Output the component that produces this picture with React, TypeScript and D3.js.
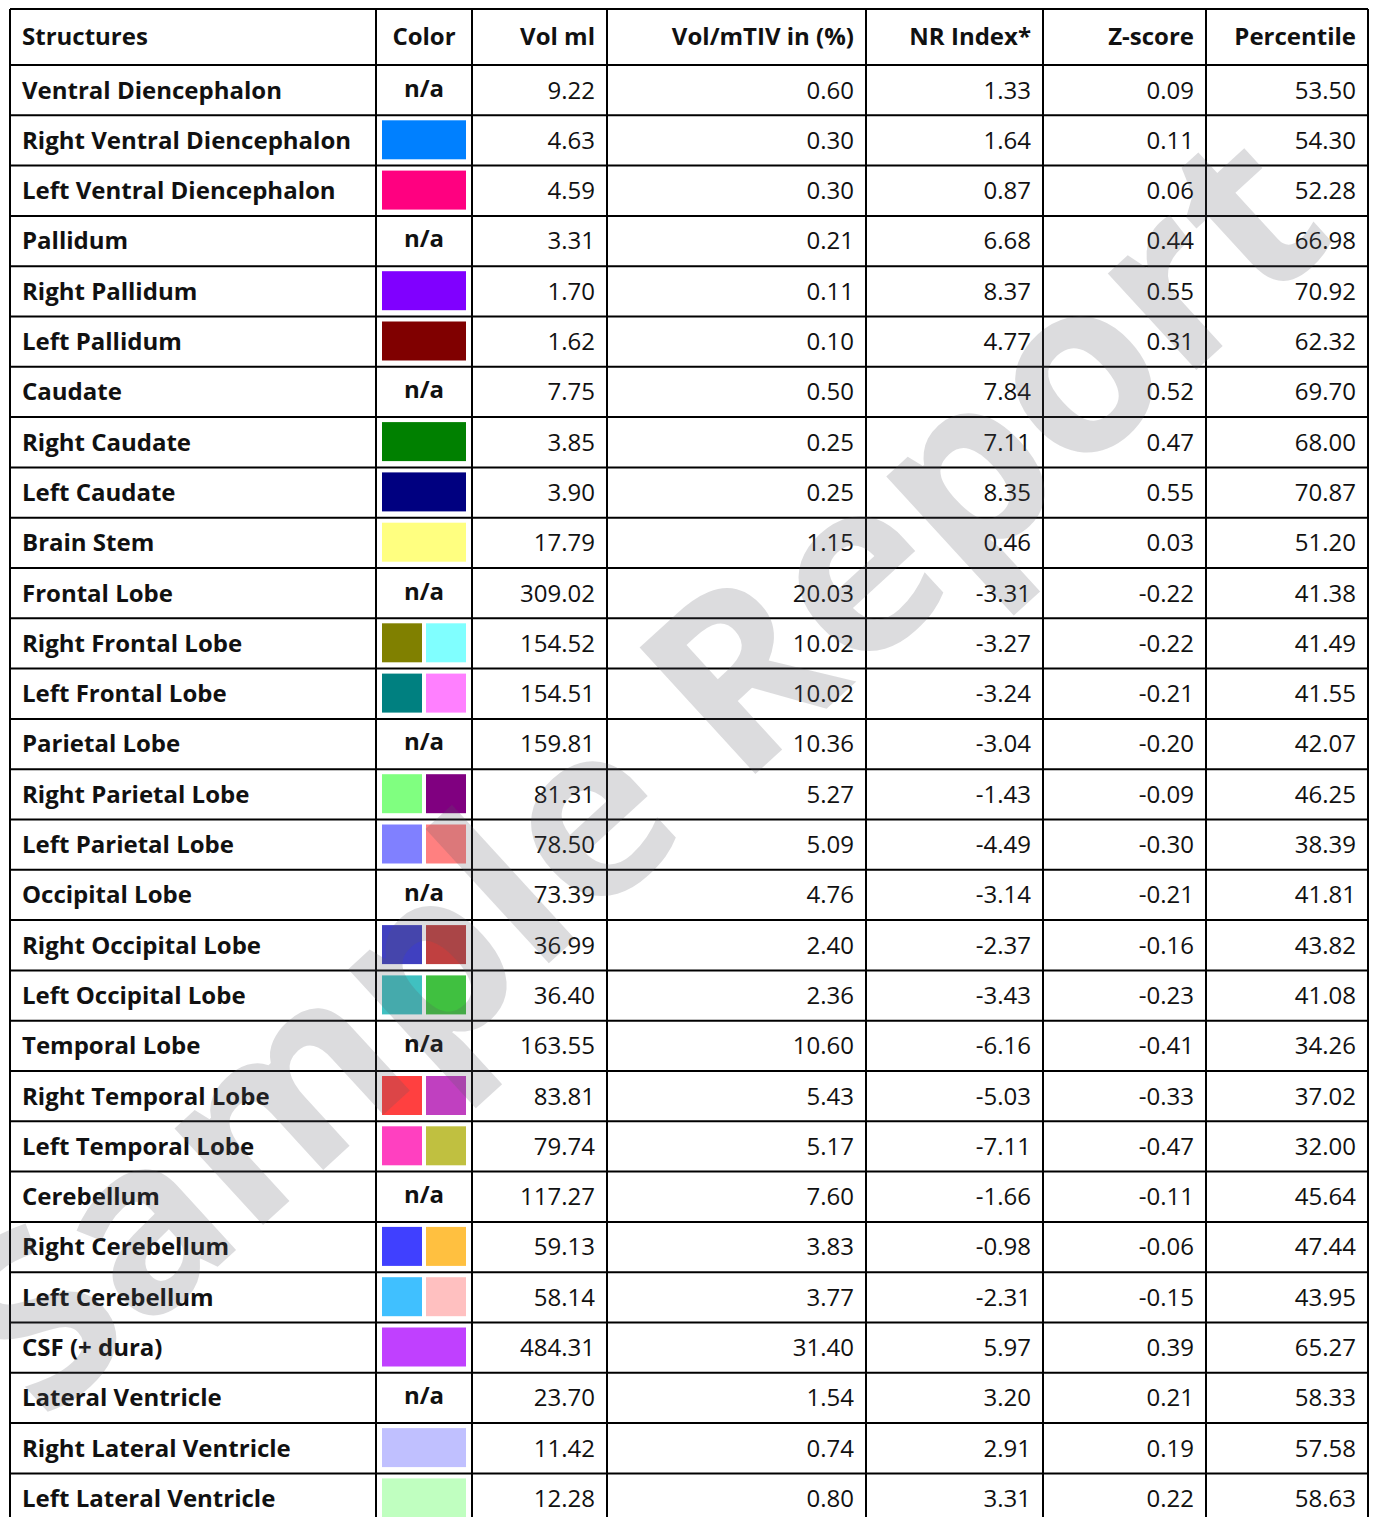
import React, { useEffect, useRef } from 'react';
import * as d3 from 'd3';

const STRUCTURES = [
  'Ventral Diencephalon', 'Right Ventral Diencephalon', 'Left Ventral Diencephalon',
  'Pallidum', 'Right Pallidum', 'Left Pallidum',
  'Caudate', 'Right Caudate', 'Left Caudate',
  'Brain Stem',
  'Frontal Lobe', 'Right Frontal Lobe', 'Left Frontal Lobe',
  'Parietal Lobe', 'Right Parietal Lobe', 'Left Parietal Lobe',
  'Occipital Lobe', 'Right Occipital Lobe', 'Left Occipital Lobe',
  'Temporal Lobe', 'Right Temporal Lobe', 'Left Temporal Lobe',
  'Cerebellum', 'Right Cerebellum', 'Left Cerebellum',
  'CSF (+ dura)',
  'Lateral Ventricle', 'Right Lateral Ventricle', 'Left Lateral Ventricle',
];

// empty list = "n/a"
const SWATCHES: string[][] = [
  [], ['#0080ff'], ['#ff0080'],
  [], ['#8000ff'], ['#800000'],
  [], ['#008000'], ['#000080'],
  ['#ffff80'],
  [], ['#808000', '#80ffff'], ['#008080', '#ff80ff'],
  [], ['#80ff80', '#800080'], ['#8080ff', '#ff8080'],
  [], ['#4040c0', '#c04040'], ['#40c0c0', '#40c040'],
  [], ['#ff4040', '#c040c0'], ['#ff40c0', '#c0c040'],
  [], ['#4040ff', '#ffc040'], ['#40c0ff', '#ffc0c0'],
  ['#c040ff'],
  [], ['#c0c0ff'], ['#c0ffc0'],
];

const VOL_ML = [9.22, 4.63, 4.59, 3.31, 1.70, 1.62, 7.75, 3.85, 3.90, 17.79, 309.02, 154.52, 154.51, 159.81, 81.31, 78.50, 73.39, 36.99, 36.40, 163.55, 83.81, 79.74, 117.27, 59.13, 58.14, 484.31, 23.70, 11.42, 12.28];
const VOL_PCT = [0.60, 0.30, 0.30, 0.21, 0.11, 0.10, 0.50, 0.25, 0.25, 1.15, 20.03, 10.02, 10.02, 10.36, 5.27, 5.09, 4.76, 2.40, 2.36, 10.60, 5.43, 5.17, 7.60, 3.83, 3.77, 31.40, 1.54, 0.74, 0.80];
const NR_INDEX = [1.33, 1.64, 0.87, 6.68, 8.37, 4.77, 7.84, 7.11, 8.35, 0.46, -3.31, -3.27, -3.24, -3.04, -1.43, -4.49, -3.14, -2.37, -3.43, -6.16, -5.03, -7.11, -1.66, -0.98, -2.31, 5.97, 3.20, 2.91, 3.31];
const Z_SCORE = [0.09, 0.11, 0.06, 0.44, 0.55, 0.31, 0.52, 0.47, 0.55, 0.03, -0.22, -0.22, -0.21, -0.20, -0.09, -0.30, -0.21, -0.16, -0.23, -0.41, -0.33, -0.47, -0.11, -0.06, -0.15, 0.39, 0.21, 0.19, 0.22];
const PERCENTILE = [53.50, 54.30, 52.28, 66.98, 70.92, 62.32, 69.70, 68.00, 70.87, 51.20, 41.38, 41.49, 41.55, 42.07, 46.25, 38.39, 41.81, 43.82, 41.08, 34.26, 37.02, 32.00, 45.64, 47.44, 43.95, 65.27, 58.33, 57.58, 58.63];

const HEADERS = ['Structures', 'Color', 'Vol ml', 'Vol/mTIV in (%)', 'NR Index*', 'Z-score', 'Percentile'];

const W = 1375;
const H = 1517;
const FONT = '"Open Sans", "Noto Sans", sans-serif';

export default function App() {
  const svgRef = useRef<SVGSVGElement>(null);

  useEffect(() => {
    const svg = d3.select(svgRef.current);
    svg.selectAll('*').remove();

    const colEdges = [10, 376, 472, 607, 866, 1043, 1206, 1368];
    const top = 9;
    const headerBottom = 65;
    const rowH = 50.3;
    const pad = 12;

    const y = d3.scaleBand<number>()
      .domain(d3.range(STRUCTURES.length))
      .range([headerBottom, headerBottom + rowH * STRUCTURES.length]);

    const numCols = [VOL_ML, VOL_PCT, NR_INDEX, Z_SCORE, PERCENTILE];

    svg.append('rect').attr('width', W).attr('height', H).attr('fill', '#fff');

    const g = svg.append('g').attr('font-family', FONT).attr('font-size', 24).attr('fill', '#111');

    // header
    HEADERS.forEach((h, i) => {
      const x0 = colEdges[i], x1 = colEdges[i + 1];
      const anchor = i === 0 ? 'start' : i === 1 ? 'middle' : 'end';
      const x = i === 0 ? x0 + pad : i === 1 ? (x0 + x1) / 2 : x1 - pad;
      g.append('text')
        .attr('x', x).attr('y', (top + headerBottom) / 2)
        .attr('dy', '0.35em')
        .attr('text-anchor', anchor)
        .attr('font-weight', 700)
        .text(h);
    });

    // rows
    STRUCTURES.forEach((name, r) => {
      const cy = y(r)! + y.bandwidth() / 2;
      g.append('text')
        .attr('x', colEdges[0] + pad).attr('y', cy).attr('dy', '0.35em')
        .attr('font-weight', 700).text(name);

      const sw = SWATCHES[r];
      const cx0 = colEdges[1] + 6, cx1 = colEdges[2] - 6;
      if (sw.length === 0) {
        g.append('text')
          .attr('x', (colEdges[1] + colEdges[2]) / 2).attr('y', cy - 2).attr('dy', '0.35em')
          .attr('text-anchor', 'middle').attr('font-weight', 700).text('n/a');
      } else {
        const gap = 4;
        const w = (cx1 - cx0 - gap * (sw.length - 1)) / sw.length;
        sw.forEach((c, k) => {
          g.append('rect')
            .attr('x', cx0 + k * (w + gap)).attr('y', y(r)! + 5)
            .attr('width', w).attr('height', 39)
            .attr('fill', c);
        });
      }

      numCols.forEach((vals, k) => {
        g.append('text')
          .attr('x', colEdges[k + 3] - pad).attr('y', cy).attr('dy', '0.35em')
          .attr('text-anchor', 'end').text(vals[r].toFixed(2));
      });
    });

    // grid lines
    const bottom = y.range()[1];
    const lines = svg.append('g').attr('stroke', '#000').attr('stroke-width', 2);
    colEdges.forEach(x => {
      lines.append('line').attr('x1', x).attr('x2', x).attr('y1', top).attr('y2', bottom);
    });
    [top, headerBottom, ...STRUCTURES.map((_, r) => y(r)! + y.bandwidth())].forEach(yy => {
      lines.append('line').attr('x1', colEdges[0]).attr('x2', colEdges[colEdges.length - 1]).attr('y1', yy).attr('y2', yy);
    });

    // watermark
    svg.append('text')
      .attr('transform', 'translate(45,1425) rotate(-42.5)')
      .attr('text-anchor', 'start')
      .attr('font-family', FONT)
      .attr('font-weight', 700)
      .attr('font-size', 240)
      .attr('fill', '#5a5a64')
      .attr('fill-opacity', 0.21)
      .text('Sample Report');
  }, []);

  return (
    <div style={{ position: 'absolute', left: 0, top: 0 }}>
      <svg ref={svgRef} width={W} height={H} style={{ display: 'block' }} />
    </div>
  );
}
